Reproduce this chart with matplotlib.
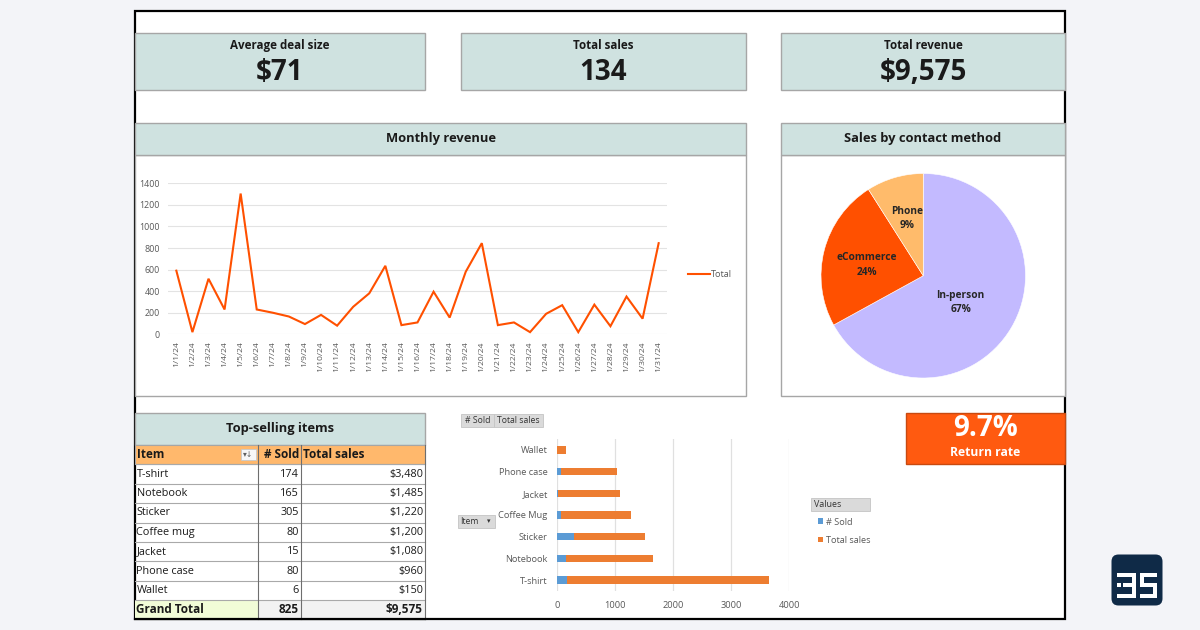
import matplotlib
matplotlib.use('Agg')
import matplotlib.pyplot as plt
from matplotlib.patches import Rectangle, FancyBboxPatch
import numpy as np

plt.rcParams['font.family'] = ['Open Sans', 'DejaVu Sans']

# ---------------- data ----------------
kpi_titles = ['Average deal size', 'Total sales', 'Total revenue']
kpi_values = ['$71', '134', '$9,575']

dates = ['1/1/24', '1/2/24', '1/3/24', '1/4/24', '1/5/24', '1/6/24', '1/7/24', '1/8/24',
         '1/9/24', '1/10/24', '1/11/24', '1/12/24', '1/13/24', '1/14/24', '1/15/24',
         '1/16/24', '1/17/24', '1/18/24', '1/19/24', '1/20/24', '1/21/24', '1/22/24',
         '1/23/24', '1/24/24', '1/25/24', '1/26/24', '1/27/24', '1/28/24', '1/29/24',
         '1/30/24', '1/31/24']
revenue = [590, 20, 515, 230, 1305, 230, 200, 165, 95, 180, 80, 255, 380, 635, 85,
           110, 395, 155, 580, 845, 85, 110, 20, 190, 270, 20, 275, 75, 350, 145, 845]
revenue_yticks = [0, 200, 400, 600, 800, 1000, 1200, 1400]

methods = ['In-person', 'eCommerce', 'Phone']
method_share = [67, 24, 9]
method_colors = ['#C3BAFF', '#FF5000', '#FFBB6B']

items = ['T-shirt', 'Notebook', 'Sticker', 'Coffee mug', 'Jacket', 'Phone case', 'Wallet']
chart_items = ['T-shirt', 'Notebook', 'Sticker', 'Coffee Mug', 'Jacket', 'Phone case', 'Wallet']
sold = [174, 165, 305, 80, 15, 80, 6]
sales = [3480, 1485, 1220, 1200, 1080, 960, 150]
bar_xticks = [0, 1000, 2000, 3000, 4000]

return_rate = '9.7%'

# ---------------- layout helpers ----------------
W, H = 1200, 630
fig = plt.figure(figsize=(12, 6.3), dpi=100, facecolor='#F3F4F8')
ov = fig.add_axes([0, 0, 1, 1], zorder=0)
ov.set_xlim(0, W)
ov.set_ylim(H, 0)
ov.axis('off')

TEAL = '#CFE2E0'
EDGE = '#A6A6A6'
TXT = '#1A1A1A'
GRAYTXT = '#595959'


def rect(x0, y0, x1, y1, fc, ec='none', lw=1.0, z=1):
    ov.add_patch(Rectangle((x0, y0), x1 - x0, y1 - y0, facecolor=fc,
                           edgecolor=ec, linewidth=lw, zorder=z))


def txt(x, y, s, **kw):
    kw.setdefault('va', 'center')
    kw.setdefault('ha', 'center')
    kw.setdefault('color', TXT)
    ov.text(x, y, s, zorder=5, **kw)


def fax(x0, y0, x1, y1, **kw):
    return fig.add_axes([x0 / W, 1 - y1 / H, (x1 - x0) / W, (y1 - y0) / H], **kw)


# frame
rect(134.5, 10.5, 1065, 619, 'white', 'black', lw=1.6, z=0.5)

# KPI boxes
kpi_x = [(135, 425), (461, 746), (781, 1065)]
for (x0, x1), t, v in zip(kpi_x, kpi_titles, kpi_values):
    rect(x0, 33, x1, 90, TEAL, EDGE, lw=1)
    txt((x0 + x1) / 2, 45.5, t, fontsize=8.4, fontweight='bold')
    txt((x0 + x1) / 2, 73, v, fontsize=20, fontweight='bold')

# panels
rect(135, 155, 746, 396, 'white', EDGE, lw=1)
rect(135, 123, 746, 155, TEAL, EDGE, lw=1)
txt(440.5, 138.5, 'Monthly revenue', fontsize=9.3, fontweight='bold')
rect(781, 155, 1065, 396, 'white', EDGE, lw=1)
rect(781, 123, 1065, 155, TEAL, EDGE, lw=1)
txt(923, 138.5, 'Sales by contact method', fontsize=9.3, fontweight='bold')

# ---------------- line chart ----------------
ax = fax(168.3, 183.3, 666.7, 334.3, zorder=2)
ax.set_facecolor('none')
x = np.arange(len(dates))
ax.plot(x, revenue, color='#FF5000', linewidth=1.5, label='Total', zorder=3,
        solid_joinstyle='miter')
ax.set_xlim(-0.5, len(dates) - 0.5)
ax.set_ylim(0, 1400)
ax.set_yticks(revenue_yticks)
ax.set_xticks(x)
ax.set_xticklabels(dates, rotation=90)
ax.grid(axis='y', color='#E3E3E3', linewidth=0.8)
ax.set_axisbelow(True)
for s in ax.spines.values():
    s.set_visible(False)
ax.tick_params(axis='y', length=0, pad=6, labelsize=6.4, labelcolor=GRAYTXT)
ax.tick_params(axis='x', length=0, pad=5, labelsize=6.1, labelcolor=GRAYTXT)
ax.legend(loc='center left', bbox_to_anchor=(683 / W, 1 - 274.5 / H),
          bbox_transform=fig.transFigure, frameon=False, fontsize=6.6,
          handlelength=2.4, handletextpad=0.2, borderpad=0, labelcolor=GRAYTXT)

# ---------------- pie ----------------
pax = fax(821, 173.5, 1025.5, 378, zorder=2)
wedges, _ = pax.pie(method_share, colors=method_colors, startangle=90,
                    counterclock=False, radius=1,
                    wedgeprops=dict(edgecolor='white', linewidth=0.4))
pax.set_xlim(-1, 1)
pax.set_ylim(-1, 1)
pax.set_aspect('equal')
pax.axis('off')
label_dist = [0.45, 0.56, 0.58]
label_shift = [-5, 3.5, 0]
for w, name, share, d, sh in zip(wedges, methods, method_share, label_dist, label_shift):
    mid = np.deg2rad((w.theta1 + w.theta2) / 2 + sh)
    pax.text(d * np.cos(mid), d * np.sin(mid), f'{name}\n{share}%', ha='center',
             va='center', fontsize=7.3, fontweight='bold', color='#262626',
             linespacing=1.4)

# ---------------- table ----------------
rect(135, 413, 425, 445, TEAL, EDGE, lw=1)
txt(280, 428.5, 'Top-selling items', fontsize=9.3, fontweight='bold')
col = [135, 258, 301, 425]
row_top = 445
row_h = 19.4
rect(col[0], row_top, col[3], row_top + row_h, '#FFB86C', EDGE, lw=0.8)
txt(col[0] + 1.5, row_top + row_h / 2, 'Item', ha='left', fontsize=8.5, fontweight='bold')
txt(col[2] - 2, row_top + row_h / 2, '# Sold', ha='right', fontsize=8.5, fontweight='bold')
txt(col[2] + 2, row_top + row_h / 2, 'Total sales', ha='left', fontsize=8.5, fontweight='bold')
# filter button
rect(241, 449, 256, 460, '#F7F7F7', '#C8C8C8', lw=0.6, z=2)
txt(248.5, 454.5, '▾↓', fontsize=5.5, color='#606060', family=['DejaVu Sans'])

n = len(items)
for i, (it, so, sa) in enumerate(zip(items, sold, sales)):
    y0 = row_top + row_h * (i + 1)
    yc = y0 + row_h / 2
    txt(col[0] + 1.5, yc, it, ha='left', fontsize=7.8)
    txt(col[2] - 2, yc, f'{so}', ha='right', fontsize=7.8)
    txt(col[3] - 2, yc, f'${sa:,}', ha='right', fontsize=7.8)
# grand total
gy0 = row_top + row_h * (n + 1)
rect(col[0], gy0, col[1], 619, '#F1FCD7', z=1)
rect(col[1], gy0, col[3], 619, '#F2F2F2', z=1)
gyc = gy0 + row_h / 2
txt(col[0] + 1.5, gyc, 'Grand Total', ha='left', fontsize=8.5, fontweight='bold')
txt(col[2] - 2, gyc, f'{sum(sold)}', ha='right', fontsize=8.5, fontweight='bold')
txt(col[3] - 2, gyc, f'${sum(sales):,}', ha='right', fontsize=8.5, fontweight='bold')
# grid lines
for i in range(1, n + 2):
    yy = row_top + row_h * i
    ov.plot([col[0], col[3]], [yy, yy], color='#A9A9A9', lw=0.8, zorder=3)
for cx in col[1:]:
    ov.plot([cx, cx], [row_top, 619], color='#6E6E6E', lw=0.8, zorder=3)
ov.plot([col[0], col[3]], [619, 619], color='black', lw=1.6, zorder=4)

# ---------------- bar chart ----------------
bax = fax(556.7, 439, 789.3, 591, zorder=2)
bax.set_facecolor('none')
y = np.arange(len(chart_items))
b1 = bax.barh(y, sold, height=0.34, color='#5B9BD5', label='# Sold', zorder=3)
b2 = bax.barh(y, sales, left=sold, height=0.34, color='#ED7D31', label='Total sales', zorder=3)
bax.set_xlim(0, 4000)
bax.set_ylim(-0.5, len(chart_items) - 0.5)
bax.set_xticks(bar_xticks)
bax.set_yticks(y)
bax.set_yticklabels(chart_items)
bax.grid(axis='x', color='#E0E0E0', linewidth=0.9)
bax.set_axisbelow(True)
for s in bax.spines.values():
    s.set_visible(False)
bax.tick_params(axis='y', length=0, pad=6.5, labelsize=6.7, labelcolor=GRAYTXT)
bax.tick_params(axis='x', length=0, pad=7, labelsize=6.7, labelcolor=GRAYTXT)
fig.legend(handles=[b1, b2], labels=['# Sold', 'Total sales'], loc='upper left',
           bbox_to_anchor=(813 / W, 1 - 513 / H), frameon=False, fontsize=6.6,
           handlelength=0.6, handleheight=0.6, labelspacing=1.0,
           handletextpad=0.3, borderpad=0, labelcolor=GRAYTXT)

# pivot field buttons
BTN = '#DADADA'
rect(461, 414, 494, 427, BTN, '#C4C4C4', lw=0.6)
txt(477.5, 420.5, '# Sold', fontsize=6.2, color='#333333')
rect(494, 414, 543, 427, BTN, '#C4C4C4', lw=0.6)
txt(518.5, 420.5, 'Total sales', fontsize=6.2, color='#333333')
rect(458, 515, 495, 528, BTN, '#C4C4C4', lw=0.6)
txt(460.5, 521.5, 'Item', ha='left', fontsize=6.2, color='#333333')
txt(488.5, 521.5, '▾', fontsize=5, color='#333333', family=['DejaVu Sans'])
rect(811, 498, 870, 511, BTN, '#C4C4C4', lw=0.6)
txt(814, 504.5, 'Values', ha='left', fontsize=6.4, color='#333333')

# ---------------- return rate ----------------
rect(905.5, 413, 1065, 464, '#FF5A10', '#C84A10', lw=1)
txt(985, 428, return_rate, fontsize=20, fontweight='bold', color='white')
txt(985, 453, 'Return rate', fontsize=8.7, fontweight='bold', color='white')

# ---------------- logo ----------------
ov.add_patch(FancyBboxPatch((1115, 558), 44, 44, boxstyle='round,pad=3.5,rounding_size=7',
                            facecolor='#0F2A47', edgecolor='none', zorder=2))
logo_bars = [
    (1117, 573, 1136, 577), (1132, 573, 1136, 598), (1117, 594, 1136, 598),
    (1123, 582.5, 1136, 587), (1117, 582.5, 1120.5, 587),
    (1140, 573, 1157, 577), (1140, 573, 1144, 587), (1140, 582.5, 1157, 587),
    (1153, 582.5, 1157, 598), (1140, 594, 1157, 598),
]
for (a, b, c, d) in logo_bars:
    rect(a, b, c, d, 'white', z=3)

fig.savefig('out.png', dpi=100, facecolor=fig.get_facecolor())
